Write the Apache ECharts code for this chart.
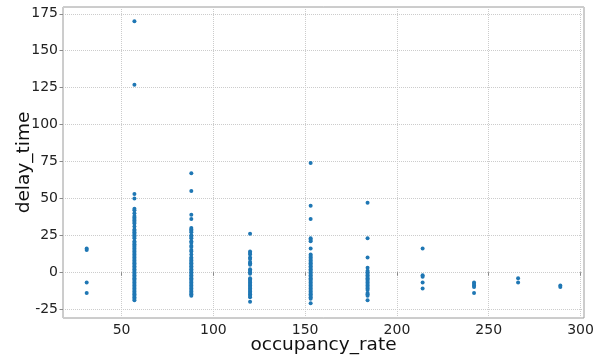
<!DOCTYPE html>
<html>
<head>
<meta charset="utf-8">
<script src="https://cdn.jsdelivr.net/npm/echarts@6/dist/echarts.min.js"></script>
<style>
  html, body { margin: 0; padding: 0; background: #fff; }
  #chart { width: 605px; height: 358px; }
</style>
</head>
<body>
<div id="chart"></div>
<script>
// occupancy_rate columns and the delay_time values seen in each
const occupancy = [31, 57, 88, 120, 153, 184, 214, 242, 266, 289]

const delays31 = [15, 16, -7, -14]
const delays57 = [170, 127, 53, 50, 43, 42, 40, 38, 37, 36, 35, 34, 33, 31, 29, 28, 27, 26, 25, 24, 23,
  21, 20, 19, 18, 17, 16, 15, 14, 13, 12, 11, 10, 9, 8, 7, 6, 5, 4, 3, 2, 1, 0,
  -1, -2, -3, -4, -5, -6, -7, -8, -9, -10, -11, -12, -13, -14, -15, -16, -17, -18, -19]
const delays88 = [67, 55, 39, 36, 30, 29, 28, 27, 25, 24, 23, 21, 20, 18, 17, 15, 14, 12, 10, 9, 8, 7,
  6, 5, 4, 3, 2, 1, 0, -1, -2, -3, -4, -5, -6, -7, -8, -9, -10, -11, -12, -13, -14, -15, -16]
const delays120 = [26, 14, 13, 12, 10, 9, 7, 6, 5, 2, 1, 0, -1, -4, -5, -6, -7, -8, -9, -10, -11,
  -12, -13, -14, -15, -16, -17, -20]
const delays153 = [74, 45, 36, 23, 22, 21, 16, 12, 11, 10, 9, 8, 7, 6, 5, 4, 3, 2, 1, 0, -1, -2, -3,
  -4, -5, -6, -7, -8, -9, -10, -11, -12, -13, -14, -15, -16, -17, -18, -21]
const delays184 = [47, 23, 10, 3, 1, 0, -1, -2, -3, -4, -5, -6, -7, -8, -9, -10, -11, -12, -14, -15, -16, -19]
const delays214 = [16, -2, -3, -7, -11]
const delays242 = [-7, -8, -9, -10, -14]
const delays266 = [-4, -7]
const delays289 = [-9, -10]

const delayColumns = [delays31, delays57, delays88, delays120, delays153, delays184,
  delays214, delays242, delays266, delays289]

const points = []
delayColumns.forEach((col, i) => col.forEach(d => points.push([occupancy[i], d])))

const chart = echarts.init(document.getElementById('chart'))
const tickText = { color: '#222', fontSize: 14, fontFamily: 'DejaVu Sans' }
const gridLine = { show: true, lineStyle: { color: '#cccccc', type: 'dotted', width: 1 } }

chart.setOption({
  animation: false,
  grid: {
    left: 63, right: 21, top: 7, bottom: 40,
    outerBoundsMode: 'none',
    show: true, borderColor: '#9a9a9a', borderWidth: 1,
  },
  xAxis: {
    type: 'value',
    min: 18.1,
    max: 301.9,
    minInterval: 50,
    maxInterval: 50,
    name: 'occupancy_rate',
    nameLocation: 'middle',
    nameGap: 18,
    nameMoveOverlap: false,
    nameTextStyle: { color: '#111', fontSize: 18.5, fontFamily: 'DejaVu Sans' },
    axisLine: { show: false },
    axisTick: { show: true, length: 3.5, lineStyle: { color: '#8a8a8a' } },
    axisLabel: { ...tickText, margin: 5, showMinLabel: false, showMaxLabel: false },
    splitLine: gridLine,
  },
  yAxis: {
    type: 'value',
    min: -31.0,
    max: 179.6,
    minInterval: 25,
    maxInterval: 25,
    name: 'delay_time',
    nameLocation: 'middle',
    nameGap: 29,
    nameMoveOverlap: false,
    nameTextStyle: { color: '#111', fontSize: 18.5, fontFamily: 'DejaVu Sans' },
    axisLine: { show: false },
    axisTick: { show: true, length: 3.5, lineStyle: { color: '#8a8a8a' } },
    axisLabel: { ...tickText, margin: 5, showMinLabel: false, showMaxLabel: false },
    splitLine: gridLine,
  },
  series: [{
    type: 'scatter',
    data: points,
    symbolSize: 4,
    itemStyle: { color: '#1f77b4', opacity: 1 },
  }],
})
</script>
</body>
</html>
